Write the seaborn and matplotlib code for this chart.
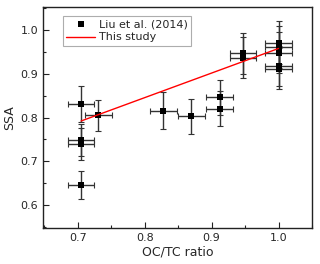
import seaborn as sns
import matplotlib.pyplot as plt
from matplotlib.ticker import MultipleLocator
import pandas as pd

# Liu et al. (2014) points
oc_tc = [0.705, 0.705, 0.705, 0.705, 0.731, 0.828, 0.870, 0.912, 0.912,
         0.947, 0.947, 1.0, 1.0, 1.0, 1.0, 1.0]
ssa = [0.831, 0.749, 0.739, 0.646, 0.805, 0.816, 0.803, 0.846, 0.820,
       0.947, 0.937, 0.971, 0.961, 0.948, 0.918, 0.912]
x_err = [0.02] * len(oc_tc)
y_err = [0.042, 0.037, 0.037, 0.032, 0.036, 0.043, 0.040, 0.040, 0.040,
         0.047, 0.047, 0.049, 0.048, 0.047, 0.046, 0.046]

# this study fit
fit_x = [0.705, 1.0]
fit_y = [0.792, 0.958]

df = pd.DataFrame({'oc_tc': oc_tc, 'ssa': ssa})
fit_df = pd.DataFrame({'oc_tc': fit_x, 'ssa': fit_y})

sns.set_style('ticks')
plt.rcParams['font.family'] = ['DejaVu Sans']

fig = plt.figure(figsize=(3.2, 2.64), dpi=100)
ax = fig.add_axes([0.134, 0.136, 0.841, 0.836])

ax.errorbar(oc_tc, ssa, xerr=x_err, yerr=y_err, fmt='none',
            ecolor='#333333', elinewidth=1.0, capsize=2.5, capthick=0.8, zorder=2)
sns.scatterplot(data=df, x='oc_tc', y='ssa', marker='s', color='black',
                s=24, edgecolor='black', linewidth=0, ax=ax, zorder=3,
                label='Liu et al. (2014)')
sns.lineplot(data=fit_df, x='oc_tc', y='ssa', color='red', lw=1.0, ax=ax,
             zorder=4, label='This study')

ax.set_xlim(0.648, 1.05)
ax.set_ylim(0.547, 1.052)
ax.xaxis.set_major_locator(MultipleLocator(0.1))
ax.xaxis.set_minor_locator(MultipleLocator(0.05))
ax.yaxis.set_major_locator(MultipleLocator(0.1))
ax.yaxis.set_minor_locator(MultipleLocator(0.05))
ax.tick_params(which='both', direction='in', top=False, right=False,
               labelsize=8, color='#222222')
ax.tick_params(which='major', length=4, width=0.8)
ax.tick_params(which='minor', length=2, width=0.8)
for sp in ax.spines.values():
    sp.set_linewidth(1.0)
    sp.set_color('#222222')

ax.set_xlabel('OC/TC ratio', fontsize=9, labelpad=2)
ax.set_ylabel('SSA', fontsize=9, labelpad=3)

leg = ax.legend(loc='upper left', bbox_to_anchor=(0.075, 0.962), fontsize=8,
                frameon=True, fancybox=False, borderpad=0.3,
                handlelength=2.6, handletextpad=0.3, labelspacing=0.3,
                borderaxespad=0.0)
leg.get_frame().set_edgecolor('#999999')
leg.get_frame().set_linewidth(0.8)

fig.savefig('out.png', dpi=100)
